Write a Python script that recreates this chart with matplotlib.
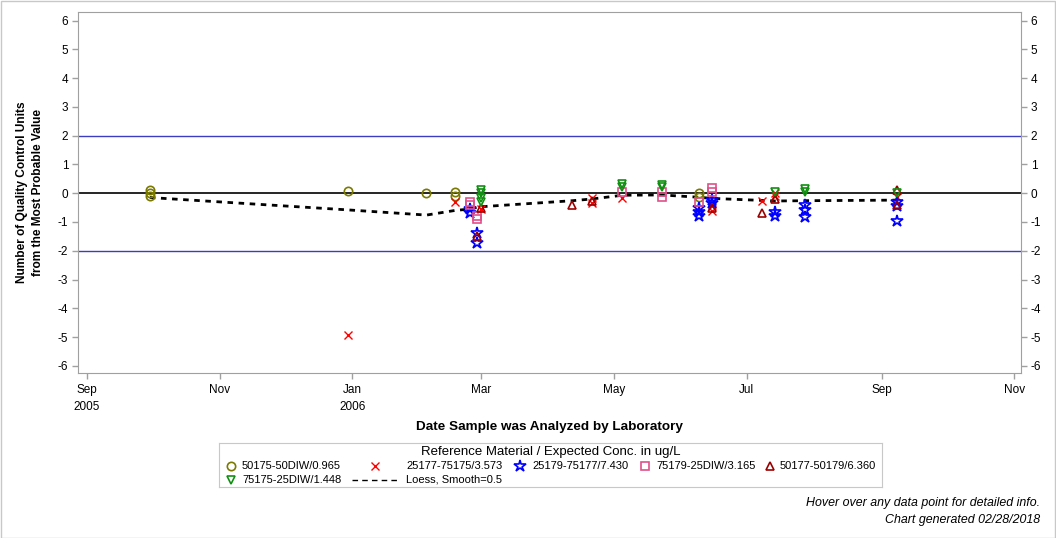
import matplotlib
matplotlib.use('Agg')
import matplotlib.pyplot as plt
import matplotlib.dates as mdates
from matplotlib.patches import Rectangle
import numpy as np

plt.rcParams['font.family'] = ['Liberation Sans', 'DejaVu Sans']

# --- data ---
# 50175-50DIW/0.965 (olive circles)
s1_dates = ['2005-09-30', '2005-09-30', '2005-09-30', '2005-12-30', '2006-02-04',
            '2006-02-17', '2006-02-17', '2006-06-09', '2006-06-09']
s1_vals = [0.1, 0.0, -0.1, 0.08, 0.0, 0.03, -0.1, 0.0, -0.12]

# 25177-75175/3.573 (red x)
s2_dates = ['2005-12-30', '2006-02-17', '2006-03-01', '2006-04-21', '2006-04-21',
            '2006-05-05', '2006-06-15', '2006-06-15', '2006-06-15', '2006-07-08',
            '2006-07-14', '2006-07-14', '2006-09-08']
s2_vals = [-4.93, -0.32, -0.55, -0.17, -0.35, -0.17, -0.3, -0.45, -0.63, -0.27,
           0.0, -0.1, -0.12]

# 25179-75177/7.430 (blue stars)
s3_dates = ['2006-02-24', '2006-02-24', '2006-02-27', '2006-02-27', '2006-06-09',
            '2006-06-09', '2006-06-09', '2006-06-15', '2006-06-15', '2006-07-14',
            '2006-07-14', '2006-07-28', '2006-07-28', '2006-07-28', '2006-09-08',
            '2006-09-08', '2006-09-08']
s3_vals = [-0.55, -0.7, -1.4, -1.72, -0.5, -0.65, -0.8, -0.23, -0.35, -0.65,
           -0.78, -0.4, -0.58, -0.82, -0.3, -0.45, -0.97]

# 75179-25DIW/3.165 (pink squares)
s4_dates = ['2006-02-24', '2006-02-24', '2006-02-27', '2006-02-27', '2006-05-05',
            '2006-05-23', '2006-05-23', '2006-06-09', '2006-06-15', '2006-06-15']
s4_vals = [-0.3, -0.42, -0.78, -0.9, 0.04, 0.04, -0.13, -0.3, 0.18, 0.03]

# 50177-50179/6.360 (dark red triangles)
s5_dates = ['2006-02-27', '2006-03-01', '2006-04-12', '2006-04-21', '2006-06-15',
            '2006-07-08', '2006-07-14', '2006-09-08', '2006-09-08']
s5_vals = [-1.5, -0.52, -0.41, -0.26, -0.5, -0.7, -0.2, 0.12, -0.4]

# 75175-25DIW/1.448 (green down triangles)
s6_dates = ['2006-03-01', '2006-03-01', '2006-03-01', '2006-03-01', '2006-05-05',
            '2006-05-05', '2006-05-23', '2006-05-23', '2006-07-14', '2006-07-28',
            '2006-07-28', '2006-09-08']
s6_vals = [0.1, 0.0, -0.17, -0.3, 0.32, 0.22, 0.3, 0.2, 0.05, 0.15, 0.05, 0.0]

# Loess, Smooth=0.5
loess_dates = ['2005-09-30', '2005-12-30', '2006-02-04', '2006-02-17', '2006-02-24',
               '2006-02-27', '2006-03-01', '2006-04-12', '2006-04-21', '2006-05-05',
               '2006-05-23', '2006-06-09', '2006-06-15', '2006-07-08', '2006-07-14',
               '2006-07-28', '2006-09-08']
loess_vals = [-0.15, -0.58, -0.76, -0.6, -0.55, -0.5, -0.47, -0.26, -0.2, -0.07,
              -0.06, -0.14, -0.18, -0.25, -0.27, -0.26, -0.24]

tick_dates = ['2005-09-01', '2005-11-01', '2006-01-01', '2006-03-01', '2006-05-01',
              '2006-07-01', '2006-09-01', '2006-11-01']
tick_labels = ['Sep\n2005', 'Nov', 'Jan\n2006', 'Mar', 'May', 'Jul', 'Sep', 'Nov']

series = [
    ('50175-50DIW/0.965', s1_dates, s1_vals, 'o', '#7a7a00', 6),
    ('25177-75175/3.573', s2_dates, s2_vals, 'x', '#ff0000', 6),
    ('25179-75177/7.430', s3_dates, s3_vals, '*', '#0000ff', 9),
    ('75179-25DIW/3.165', s4_dates, s4_vals, 's', '#e0508a', 6),
    ('50177-50179/6.360', s5_dates, s5_vals, '^', '#9b0000', 6),
    ('75175-25DIW/1.448', s6_dates, s6_vals, 'v', '#109010', 6),
]


def to_num(ds):
    return mdates.date2num(np.array(ds, dtype='datetime64[D]'))


W, H = 1056, 538
fig = plt.figure(figsize=(W / 100, H / 100), dpi=100)
fig.patches.append(Rectangle((0.5 / W, 0.5 / H), 1 - 1.5 / W, 1 - 1.5 / H,
                             transform=fig.transFigure, fill=False,
                             edgecolor='#c8c8c8', linewidth=1))

ax = fig.add_axes([78 / W, (H - 373) / H, (1021 - 78) / W, (373 - 12) / H])

ax.axhline(0, color='black', linewidth=1.2, zorder=1)
ax.axhline(2, color='#3c3cc0', linewidth=1, zorder=1)
ax.axhline(-2, color='#3c3cc0', linewidth=1, zorder=1)

ax.plot(to_num(loess_dates), loess_vals, color='black', linewidth=2,
        linestyle=(0, (2, 2)), zorder=2)

for name, d, v, m, c, ms in series:
    if m == 'x':
        ax.plot(to_num(d), v, linestyle='none', marker=m, color=c,
                markersize=ms, markeredgewidth=1, zorder=3)
    else:
        ax.plot(to_num(d), v, linestyle='none', marker=m, markerfacecolor='none',
                markeredgecolor=c, markersize=ms, markeredgewidth=1.2, zorder=3)

ax.set_xlim(to_num(['2005-08-28'])[0], to_num(['2006-11-04'])[0])
ax.set_ylim(-6.25, 6.3)
ax.set_xticks(to_num(tick_dates))
ax.set_xticklabels(tick_labels)
ax.set_yticks(np.arange(-6, 7, 1))
ax.set_yticklabels([str(i) for i in range(-6, 7)])

for s in ax.spines.values():
    s.set_color('#a0a0a0')
ax.tick_params(axis='both', colors='#a0a0a0', labelcolor='black', labelsize=8.5,
               length=4, width=1)
ax.tick_params(axis='y', right=True, labelright=True, pad=3)
ax.tick_params(axis='x', pad=4)
for lbl in ax.get_xticklabels():
    lbl.set_linespacing(1.55)

fig.text(549 / W, 1 - 427 / H, 'Date Sample was Analyzed by Laboratory',
         ha='center', va='center', fontsize=9.7, fontweight='bold')
fig.text(30 / W, 1 - 192 / H, 'Number of Quality Control Units\nfrom the Most Probable Value',
         ha='center', va='center', rotation=90, fontsize=8.6, fontweight='bold',
         linespacing=1.35)

# --- legend drawn in a pixel-coordinate axes ---
lx0, ly0, lx1, ly1 = 219, 443, 882, 487
lg = fig.add_axes([lx0 / W, (H - ly1) / H, (lx1 - lx0) / W, (ly1 - ly0) / H])
lg.set_xlim(lx0, lx1)
lg.set_ylim(ly1, ly0)
lg.set_xticks([])
lg.set_yticks([])
for s in lg.spines.values():
    s.set_color('#c8c8c8')
lg.text(551, 452, 'Reference Material / Expected Conc. in ug/L', ha='center',
        va='center', fontsize=9.5)

leg_pos = [(231, 242, 466), (375, 406, 466), (520, 532, 466), (645, 656, 466),
           (770, 780, 466), (231, 242, 480)]
for (name, d, v, m, c, ms), (mx, tx, ty) in zip(series, leg_pos):
    if m == 'x':
        lg.plot([mx], [ty], marker=m, color=c, markersize=ms, markeredgewidth=1)
    else:
        lg.plot([mx], [ty], marker=m, markerfacecolor='none', markeredgecolor=c,
                markersize=ms, markeredgewidth=1.2)
    lg.text(tx, ty, name, ha='left', va='center', fontsize=8)
lg.plot([352, 397], [480, 480], color='black', linewidth=1, linestyle=(0, (4, 3)))
lg.text(406, 480, 'Loess, Smooth=0.5', ha='left', va='center', fontsize=8)

fig.text(1040 / W, 1 - 503 / H, 'Hover over any data point for detailed info.',
         ha='right', va='center', fontsize=8.9, style='italic')
fig.text(1040 / W, 1 - 520 / H, 'Chart generated 02/28/2018',
         ha='right', va='center', fontsize=8.9, style='italic')

fig.savefig('out.png', dpi=100)
